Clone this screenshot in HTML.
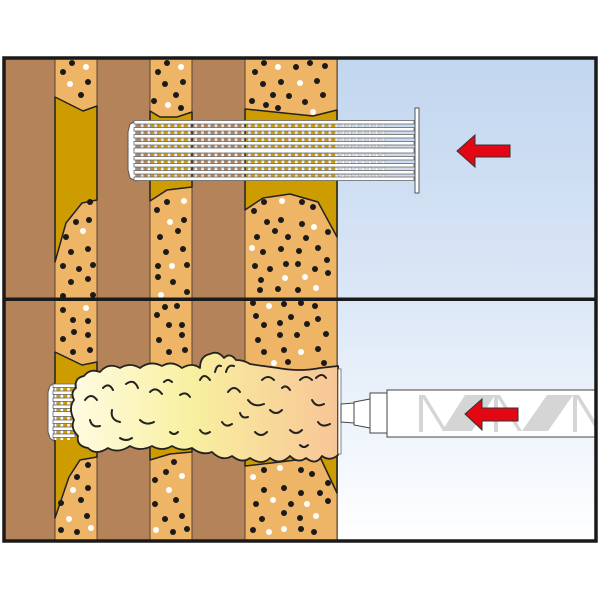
<!DOCTYPE html>
<html><head><meta charset="utf-8"><style>html,body{margin:0;padding:0;background:#fff}svg{display:block}</style></head>
<body>
<svg width="600" height="600" viewBox="0 0 600 600" xmlns="http://www.w3.org/2000/svg">
<defs>
<linearGradient id="bt" x1="0" y1="0" x2="0" y2="1"><stop offset="0" stop-color="#c1d6ef"/><stop offset="1" stop-color="#dce7f6"/></linearGradient>
<linearGradient id="bb" x1="0" y1="0" x2="0" y2="1"><stop offset="0" stop-color="#dce8f7"/><stop offset="1" stop-color="#ffffff"/></linearGradient>
<linearGradient id="fm" x1="0" y1="0" x2="1" y2="0"><stop offset="0" stop-color="#fffbe2"/><stop offset="0.45" stop-color="#f8f0a0"/><stop offset="1" stop-color="#f8c596"/></linearGradient>
<pattern id="cross" x="0" y="0" width="6.7" height="7" patternUnits="userSpaceOnUse"><rect x="0" y="0" width="3" height="7" fill="#fff" stroke="#888" stroke-width="0.4"/></pattern>
</defs>
<rect x="338" y="59" width="258" height="240" fill="url(#bt)"/>
<rect x="338" y="300" width="258" height="241" fill="url(#bb)"/>
<rect x="4" y="59" width="334" height="482" fill="#b5835a"/>
<g fill="#efb566" stroke="#5a4330" stroke-width="1">
<rect x="55" y="59" width="42" height="482"/>
<rect x="150" y="59" width="42" height="482"/>
<rect x="245" y="59" width="92" height="482"/>
</g>
<line x1="192" y1="59" x2="192" y2="541" stroke="#5a4330"/>
<g fill="#cc9c00" stroke="#222" stroke-width="1.5" stroke-linejoin="round">
<polygon points="55,97 83,111 97,106 97,200 82,203 66,223 55,262"/>
<polygon points="150,111 160,117 177,117 192,112 192,187 167,190 150,201"/>
<polygon points="245,109 313,116 337,110 337,237 318,202 290,194 263,198 245,210"/>
<polygon points="55,352 82,365 97,362 97,457 80,460 69,477 55,518"/>
<polygon points="150,400 192,400 192,452 170,454 150,460"/>
<polygon points="245,440 337,440 337,493 320,457 280,462 245,466"/>
</g>
<g fill="#1a1a1a">
<circle cx="72" cy="63" r="3"/><circle cx="63" cy="72" r="3"/><circle cx="88" cy="82" r="3"/><circle cx="81" cy="95" r="3"/>
<circle cx="90" cy="202" r="3"/><circle cx="76" cy="222" r="3"/><circle cx="89" cy="220" r="3"/><circle cx="66" cy="237" r="3"/><circle cx="71" cy="252" r="3"/><circle cx="88" cy="249" r="3"/><circle cx="63" cy="266" r="3"/><circle cx="79" cy="269" r="3"/><circle cx="93" cy="265" r="3"/><circle cx="71" cy="282" r="3"/><circle cx="88" cy="279" r="3"/><circle cx="63" cy="296" r="3"/><circle cx="93" cy="295" r="3"/>
<circle cx="167" cy="63" r="3"/><circle cx="158" cy="72" r="3"/><circle cx="165" cy="84" r="3"/><circle cx="183" cy="82" r="3"/><circle cx="176" cy="95" r="3"/><circle cx="154" cy="101" r="3"/><circle cx="181" cy="108" r="3"/>
<circle cx="167" cy="202" r="3"/><circle cx="157" cy="210" r="3"/><circle cx="184" cy="220" r="3"/><circle cx="178" cy="231" r="3"/><circle cx="160" cy="237" r="3"/><circle cx="166" cy="252" r="3"/><circle cx="183" cy="249" r="3"/><circle cx="158" cy="266" r="3"/><circle cx="187" cy="265" r="3"/><circle cx="158" cy="277" r="3"/><circle cx="173" cy="282" r="3"/><circle cx="187" cy="292" r="3"/>
<circle cx="264" cy="63" r="3"/><circle cx="296" cy="67" r="3"/><circle cx="310" cy="63" r="3"/><circle cx="325" cy="66" r="3"/><circle cx="255" cy="72" r="3"/><circle cx="263" cy="84" r="3"/><circle cx="281" cy="82" r="3"/><circle cx="317" cy="81" r="3"/><circle cx="273" cy="95" r="3"/><circle cx="289" cy="96" r="3"/><circle cx="323" cy="95" r="3"/><circle cx="252" cy="101" r="3"/><circle cx="266" cy="105" r="3"/><circle cx="278" cy="108" r="3"/><circle cx="305" cy="102" r="3"/>
<circle cx="264" cy="202" r="3"/><circle cx="302" cy="202" r="3"/><circle cx="313" cy="207" r="3"/><circle cx="254" cy="211" r="3"/><circle cx="267" cy="222" r="3"/><circle cx="281" cy="220" r="3"/><circle cx="302" cy="224" r="3"/><circle cx="275" cy="231" r="3"/><circle cx="328" cy="232" r="3"/><circle cx="257" cy="237" r="3"/><circle cx="288" cy="237" r="3"/><circle cx="306" cy="238" r="3"/><circle cx="263" cy="252" r="3"/><circle cx="281" cy="249" r="3"/><circle cx="299" cy="251" r="3"/><circle cx="318" cy="248" r="3"/><circle cx="327" cy="260" r="3"/><circle cx="255" cy="266" r="3"/><circle cx="270" cy="269" r="3"/><circle cx="286" cy="264" r="3"/><circle cx="298" cy="264" r="3"/><circle cx="315" cy="269" r="3"/><circle cx="328" cy="273" r="3"/><circle cx="261" cy="280" r="3"/><circle cx="260" cy="290" r="3"/><circle cx="278" cy="289" r="3"/><circle cx="298" cy="290" r="3"/>
<circle cx="63" cy="310" r="3"/><circle cx="73" cy="320" r="3"/><circle cx="88" cy="321" r="3"/><circle cx="63" cy="339" r="3"/><circle cx="88" cy="335" r="3"/><circle cx="74" cy="332" r="3"/><circle cx="73" cy="352" r="3"/><circle cx="90" cy="350" r="3"/>
<circle cx="88" cy="465" r="3"/><circle cx="77" cy="477" r="3"/><circle cx="88" cy="488" r="3"/><circle cx="61" cy="503" r="3"/><circle cx="81" cy="500" r="3"/><circle cx="87" cy="516" r="3"/><circle cx="61" cy="530" r="3"/><circle cx="77" cy="532" r="3"/>
<circle cx="165" cy="307" r="3"/><circle cx="177" cy="306" r="3"/><circle cx="157" cy="315" r="3"/><circle cx="169" cy="325" r="3"/><circle cx="182" cy="325" r="3"/><circle cx="159" cy="340" r="3"/><circle cx="182" cy="335" r="3"/><circle cx="169" cy="352" r="3"/><circle cx="185" cy="350" r="3"/>
<circle cx="174" cy="462" r="3"/><circle cx="166" cy="472" r="3"/><circle cx="155" cy="480" r="3"/><circle cx="155" cy="504" r="3"/><circle cx="176" cy="500" r="3"/><circle cx="182" cy="516" r="3"/><circle cx="165" cy="519" r="3"/><circle cx="173" cy="532" r="3"/><circle cx="187" cy="529" r="3"/>
<circle cx="253" cy="303" r="3"/><circle cx="284" cy="304" r="3"/><circle cx="301" cy="303" r="3"/><circle cx="315" cy="306" r="3"/><circle cx="256" cy="316" r="3"/><circle cx="264" cy="325" r="3"/><circle cx="280" cy="323" r="3"/><circle cx="291" cy="317" r="3"/><circle cx="307" cy="324" r="3"/><circle cx="318" cy="319" r="3"/><circle cx="258" cy="340" r="3"/><circle cx="280" cy="335" r="3"/><circle cx="297" cy="335" r="3"/><circle cx="326" cy="334" r="3"/><circle cx="264" cy="352" r="3"/><circle cx="284" cy="350" r="3"/><circle cx="318" cy="349" r="3"/><circle cx="288" cy="362" r="3"/><circle cx="324" cy="363" r="3"/>
<circle cx="264" cy="470" r="3"/><circle cx="301" cy="470" r="3"/><circle cx="312" cy="474" r="3"/><circle cx="328" cy="483" r="3"/><circle cx="264" cy="490" r="3"/><circle cx="284" cy="488" r="3"/><circle cx="301" cy="493" r="3"/><circle cx="320" cy="493" r="3"/><circle cx="256" cy="504" r="3"/><circle cx="291" cy="504" r="3"/><circle cx="328" cy="501" r="3"/><circle cx="284" cy="513" r="3"/><circle cx="262" cy="519" r="3"/><circle cx="300" cy="518" r="3"/><circle cx="253" cy="530" r="3"/><circle cx="301" cy="529" r="3"/><circle cx="314" cy="532" r="3"/>
</g>
<g fill="#fff">
<circle cx="86" cy="67" r="3"/><circle cx="70" cy="84" r="3"/><circle cx="83" cy="231" r="3"/><circle cx="181" cy="67" r="3"/><circle cx="168" cy="105" r="3"/><circle cx="184" cy="201" r="3"/><circle cx="170" cy="222" r="3"/><circle cx="172" cy="266" r="3"/><circle cx="161" cy="295" r="3"/>
<circle cx="278" cy="67" r="3"/><circle cx="300" cy="83" r="3"/><circle cx="313" cy="112" r="3"/><circle cx="282" cy="201" r="3"/><circle cx="314" cy="227" r="3"/><circle cx="252" cy="248" r="3"/><circle cx="285" cy="278" r="3"/><circle cx="305" cy="277" r="3"/><circle cx="316" cy="288" r="3"/>
<circle cx="86" cy="308" r="3"/><circle cx="73" cy="490" r="3"/><circle cx="69" cy="519" r="3"/><circle cx="91" cy="528" r="3"/><circle cx="182" cy="476" r="3"/><circle cx="169" cy="490" r="3"/><circle cx="156" cy="530" r="3"/>
<circle cx="269" cy="306" r="3"/><circle cx="301" cy="352" r="3"/><circle cx="274" cy="363" r="3"/><circle cx="280" cy="468" r="3"/><circle cx="253" cy="477" r="3"/><circle cx="273" cy="500" r="3"/><circle cx="307" cy="504" r="3"/><circle cx="316" cy="516" r="3"/><circle cx="269" cy="532" r="3"/><circle cx="284" cy="529" r="3"/>
</g>
<g>
<rect x="136" y="121" width="250" height="59" fill="url(#cross)"/>
<path d="M136,121 L130,124 L128,132 L128,170 L130,178 L136,181 Z" fill="#fff" stroke="#555" stroke-width="1"/>
<g fill="#fff" stroke="#666" stroke-width="0.8">
<rect x="134" y="120.5" width="280" height="3.5"/><rect x="134" y="127.5" width="280" height="3.5"/><rect x="134" y="134.5" width="280" height="3.5"/><rect x="134" y="141.5" width="280" height="3.5"/><rect x="134" y="148" width="280" height="5"/><rect x="134" y="156.5" width="280" height="3.5"/><rect x="134" y="163.5" width="280" height="3.5"/><rect x="134" y="170.5" width="280" height="3.5"/><rect x="134" y="177" width="280" height="3.5"/>
</g>
<rect x="415" y="108" width="4" height="85" fill="#fff" stroke="#555" stroke-width="1"/>
</g>
<polygon points="457,151 475,135 475,145 510,145 510,157 475,157 475,167" fill="#e30613" stroke="#333" stroke-width="1"/>
<g>
<rect x="54" y="384" width="20" height="56" fill="url(#cross)"/>
<path d="M54,383 L50,386 L48,392 L48,432 L50,438 L54,441 Z" fill="#fff" stroke="#555" stroke-width="1"/>
<g fill="#fff" stroke="#666" stroke-width="0.8">
<rect x="53" y="384" width="22" height="3.5"/><rect x="53" y="391" width="22" height="3.5"/><rect x="53" y="398" width="22" height="3.5"/><rect x="53" y="405" width="22" height="3.5"/><rect x="53" y="411.5" width="22" height="5"/><rect x="53" y="420" width="22" height="3.5"/><rect x="53" y="427" width="22" height="3.5"/><rect x="53" y="434" width="22" height="3.5"/>
</g>
</g>
<path d="M76,388 Q74,378 84,376 Q90,368 100,372 Q108,362 120,368 Q130,362 140,368 Q150,360 162,366 Q172,360 182,368 Q192,362 200,368 Q200,356 210,354 Q218,350 224,358 Q230,352 236,360 Q244,360 250,364 Q262,366 278,368 Q300,372 320,368 L338,366 L338,455 Q330,462 322,456 Q316,466 306,458 Q298,464 290,456 Q280,466 270,458 Q262,466 250,458 Q242,464 232,456 Q222,462 212,452 Q202,456 192,448 Q182,452 172,446 Q162,452 152,446 Q140,452 130,446 Q118,454 108,448 Q96,456 88,448 Q76,446 78,436 Q70,428 74,420 Q68,408 74,400 Q70,392 76,388 Z" fill="url(#fm)" stroke="#222" stroke-width="1.8" stroke-linejoin="round"/>
<g fill="none" stroke="#222" stroke-width="2" stroke-linecap="round">
<path d="M85,400 q6,-8 12,0"/><path d="M103,388 q6,-6 10,2"/><path d="M126,384 q8,-6 12,4"/><path d="M150,392 q6,-6 12,2"/><path d="M90,420 q2,8 10,6"/><path d="M112,410 q-2,10 8,12"/><path d="M140,420 q6,6 14,2"/><path d="M164,382 q4,-4 8,0"/><path d="M180,395 q6,-4 10,2"/><path d="M200,380 q4,-8 10,0"/><path d="M215,372 q2,-8 6,-6"/><path d="M226,372 q2,-8 8,-6"/><path d="M228,392 q6,-8 12,0"/><path d="M248,400 q6,8 16,4"/><path d="M262,380 q6,-6 12,0"/><path d="M270,410 q6,6 12,0"/><path d="M282,388 q4,-4 8,2"/><path d="M300,380 q6,-6 12,0"/><path d="M316,378 q6,-6 10,0"/><path d="M312,400 q4,8 12,4"/><path d="M318,422 q4,6 12,2"/><path d="M290,430 q6,6 12,0"/><path d="M255,432 q6,6 12,0"/><path d="M222,422 q4,6 10,2"/><path d="M200,430 q4,6 10,2"/><path d="M170,432 q4,4 8,0"/><path d="M120,438 q6,4 12,0"/><path d="M300,445 q4,4 8,0"/><path d="M240,413 q2,6 8,4"/>
</g>
<rect x="338" y="369" width="3" height="85" fill="#fff" stroke="#666" stroke-width="0.8"/>
<g fill="#fff" stroke="#444" stroke-width="1">
<polygon points="341,404 354,403 354,423 341,422"/>
<polygon points="354,402 370,399 370,428 354,425"/>
<rect x="370" y="393" width="17" height="40"/>
<rect x="387" y="390" width="210" height="47"/>
</g>
<g fill="#d5d5d5">
<rect x="419" y="395" width="4" height="37"/>
<polygon points="421,395 425,395 447,431 443,431"/>
<polygon points="442,431 465,395 495,395 472,431"/>
<rect x="494" y="395" width="4" height="37"/>
<polygon points="496,395 500,395 522,431 518,431"/>
<polygon points="522,431 547,395 573,395 548,431"/>
<rect x="573" y="395" width="4" height="37"/>
<polygon points="575,395 579,395 595,421 595,428"/>
</g>
<polygon points="465,414 482,399 482,408 518,408 518,421 482,421 482,430" fill="#e30613" stroke="#333" stroke-width="1"/>
<rect x="4" y="58" width="592" height="483" fill="none" stroke="#1a1a1a" stroke-width="3.5"/>
<rect x="4" y="297.5" width="592" height="3.5" fill="#1a1a1a"/>
</svg>
</body></html>
